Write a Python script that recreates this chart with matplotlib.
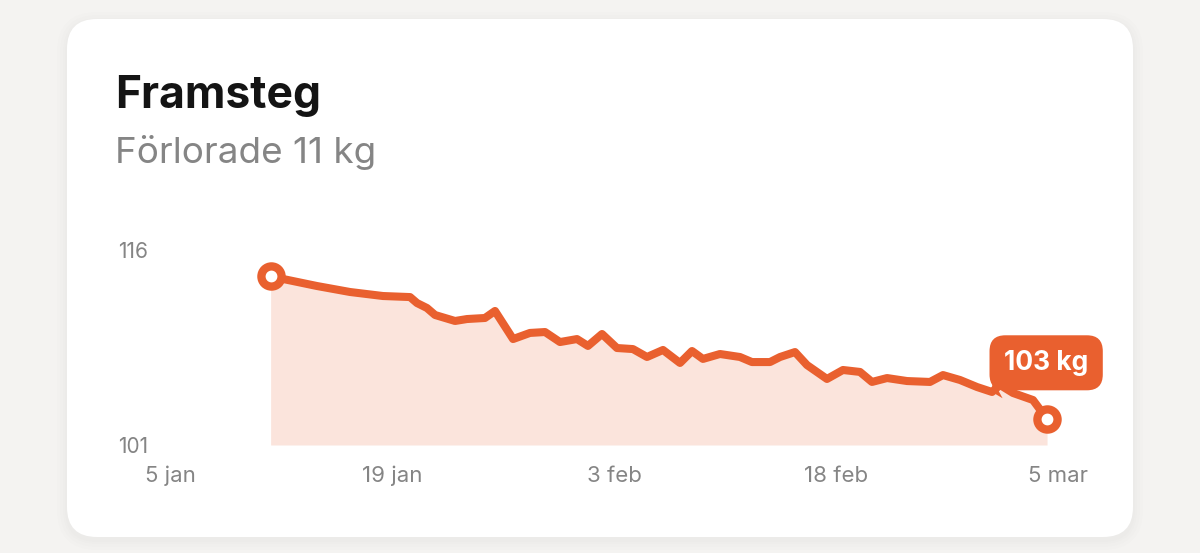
import matplotlib
matplotlib.use("Agg")
import matplotlib.pyplot as plt
from matplotlib.patches import FancyBboxPatch

# dagar efter 5 jan, och vikt i kg
days = [6.8, 7.64, 9.93, 12.16, 14.39, 16.22, 16.69, 17.36, 17.91, 19.26,
        20.07, 21.28, 21.96, 23.18, 24.32, 25.34, 26.35, 27.5, 28.24, 29.19,
        30.2, 31.28, 32.23, 33.31, 34.46, 35.27, 36.01, 37.16, 38.51, 39.32,
        40.54, 41.22, 42.23, 43.04, 44.39, 45.47, 46.62, 47.43, 48.45, 49.8,
        51.35, 52.23, 53.38, 54.53, 55.54, 56.08, 56.96, 58.31, 59.26]
weight = [114.0, 113.77, 113.23, 112.77, 112.46, 112.38, 111.92, 111.54, 111.0, 110.54,
          110.69, 110.77, 111.31, 109.15, 109.62, 109.69, 108.92, 109.15, 108.62, 109.54,
          108.46, 108.38, 107.77, 108.31, 107.31, 108.23, 107.62, 108.0, 107.77, 107.38,
          107.38, 107.77, 108.15, 107.15, 106.08, 106.77, 106.62, 105.85, 106.15, 105.92,
          105.85, 106.38, 106.0, 105.46, 105.08, 105.62, 105.0, 104.46, 103.0]
tick_days = [0, 15, 30, 45, 60]
tick_labels = ["5 jan", "19 jan", "3 feb", "18 feb", "5 mar"]
y_ticks = [101, 116]

title = "Framsteg"
subtitle = "Förlorade 11 kg"

orange = "#e9602f"
fill = "#fbe4dc"
grey = "#858585"

plt.rcParams['font.family'] = ['Inter', 'DejaVu Sans']

W, H = 1200, 553
fig = plt.figure(figsize=(W / 100, H / 100), dpi=100, facecolor="#f4f3f1")

# bakgrund / kort i pixelkoordinater
bg = fig.add_axes([0, 0, 1, 1])
bg.set_xlim(0, W)
bg.set_ylim(H, 0)
bg.axis("off")
for g in [10, 7, 4, 2]:
    bg.add_patch(FancyBboxPatch((67 - g, 19 - g + 3), 1066 + 2 * g, 518 + 2 * g,
                                boxstyle="round,pad=0,rounding_size=%d" % (30 + g),
                                fc="#000000", ec="none", alpha=0.006))
bg.add_patch(FancyBboxPatch((67, 19), 1066, 518, boxstyle="round,pad=0,rounding_size=30",
                            fc="white", ec="none"))
bg.text(115, 108, title, fontsize=32, fontweight="bold", color="#141414", va="baseline")
bg.text(115, 163, subtitle, fontsize=26.5, color=grey, va="baseline")

# diagrammet
ax = fig.add_axes([170 / W, (H - 445) / H, 888 / W, 195 / H])
ax.set_facecolor("none")
ax.set_xlim(0, 60)
ax.set_ylim(101, 116)
for s in ax.spines.values():
    s.set_visible(False)

ax.fill_between(days, weight, 101, color=fill, lw=0)
ax.plot(days, weight, color=orange, lw=5.8, solid_joinstyle="round",
        solid_capstyle="round", zorder=3)
ax.plot([days[0], days[-1]], [weight[0], weight[-1]], ls="none", marker="o",
        ms=14.5, mew=6, mec=orange, mfc="white", zorder=4, clip_on=False)

ax.annotate(f"{weight[-1]:.0f} kg", xy=(days[44], weight[44]), xytext=(39, 21),
            textcoords="offset points", ha="center", va="center",
            fontsize=19, fontweight="bold", color="white", zorder=6,
            bbox=dict(boxstyle="round,pad=0.55,rounding_size=0.6", fc=orange, ec="none"),
            arrowprops=dict(arrowstyle="wedge,tail_width=0.8,shrink_factor=0.5",
                            fc=orange, ec="none", shrinkA=0, shrinkB=0))

ax.set_xticks(tick_days)
ax.set_xticklabels(tick_labels)
ax.set_yticks(y_ticks)
ax.tick_params(axis="x", length=0, pad=15, labelsize=16, labelcolor=grey)
ax.tick_params(axis="y", length=0, pad=0, labelsize=15, labelcolor=grey)
for lab in ax.get_yticklabels():
    lab.set_horizontalalignment("left")
    lab.set_x(-52 / 888)

fig.savefig("out.png", dpi=100, facecolor=fig.get_facecolor())
